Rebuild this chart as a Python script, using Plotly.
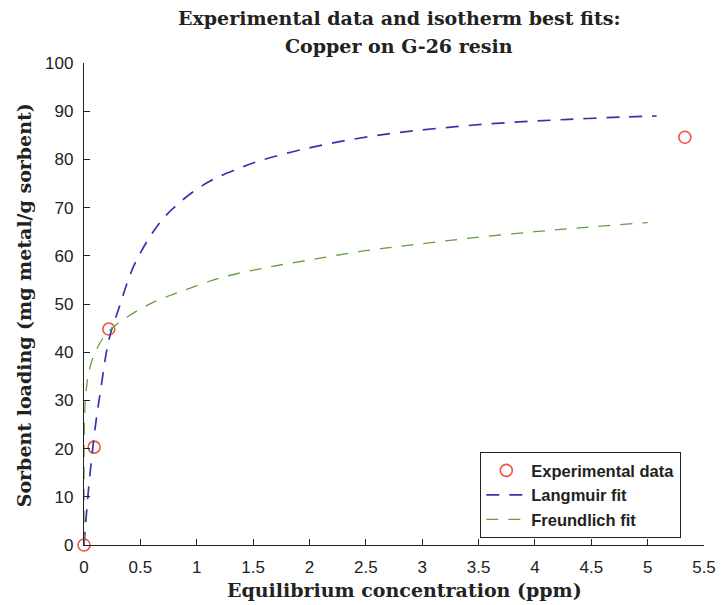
import plotly.graph_objects as go

# Experimental data
exp_x = [0.0, 0.09, 0.22, 5.33]
exp_y = [0.0, 20.3, 44.8, 84.6]

# Langmuir fit curve
lang_x = [0.0, 0.02, 0.05, 0.1, 0.15, 0.22, 0.305, 0.45, 0.67, 0.86, 1.11, 1.36, 1.57, 1.98, 2.39, 2.8, 3.3, 3.8, 4.3, 4.8, 5.08]
lang_y = [0.0, 6.0, 14.0, 24.5, 32.5, 42.5, 48.8, 58.3, 66.8, 71.3, 75.4, 78.0, 79.8, 82.3, 84.2, 85.6, 86.8, 87.7, 88.3, 88.8, 89.0]

# Freundlich fit curve
freu_x = [0.0, 0.0001, 0.001, 0.005, 0.01, 0.02, 0.05, 0.1, 0.2, 0.39, 0.6, 0.86, 1.22, 1.63, 2.04, 2.48, 2.89, 3.4, 4.0, 4.5, 5.0]
freu_y = [0.0, 16.0, 21.6, 26.6, 29.3, 32.3, 36.6, 40.0, 43.9, 47.4, 50.2, 52.6, 55.5, 57.6, 59.3, 61.0, 62.2, 63.6, 65.0, 66.0, 66.9]

x_ticks = [0, 0.5, 1, 1.5, 2, 2.5, 3, 3.5, 4, 4.5, 5, 5.5]
x_tick_text = ["0", "0.5", "1", "1.5", "2", "2.5", "3", "3.5", "4", "4.5", "5", "5.5"]
y_ticks = [0, 10, 20, 30, 40, 50, 60, 70, 80, 90, 100]

fig = go.Figure()
fig.add_trace(go.Scatter(x=exp_x, y=exp_y, mode="markers", name="<b>Experimental data</b>",
                         marker=dict(symbol="circle-open", size=12, color="#f0563f",
                                     line=dict(width=1.6, color="#f0563f")),
                         cliponaxis=False))
fig.add_trace(go.Scatter(x=lang_x, y=lang_y, mode="lines", name="<b>Langmuir fit</b>",
                         line=dict(color="#3535b0", width=1.7, dash="13px,10px", shape="spline")))
fig.add_trace(go.Scatter(x=freu_x, y=freu_y, mode="lines", name="<b>Freundlich fit</b>",
                         line=dict(color="#62a040", width=1.3, dash="12px,10px", shape="spline")))

serif = "DejaVu Serif"
sans = "Liberation Sans, Arial, sans-serif"

# plot area in pixels: left 84, right 707, top 63, bottom 545
L, R, T, B = 84, 707, 63, 545
W, H = R - L, B - T


def px(x):
    return (x - L) / W


def py(y):
    return (B - y) / H


annotations = [
    dict(text="<b>Experimental data and isotherm best fits:</b>", x=px(401), y=py(18),
         font=dict(family=serif, size=19, color="#222")),
    dict(text="<b>Copper on G-26 resin</b>", x=px(401), y=py(46),
         font=dict(family=serif, size=19, color="#222")),
    dict(text="<b>Equilibrium concentration (ppm)</b>", x=px(406), y=py(590),
         font=dict(family=serif, size=19, color="#222")),
    dict(text="<b>Sorbent loading (mg metal/g sorbent)</b>", x=px(24), y=py(305), textangle=-90,
         font=dict(family=serif, size=19, color="#222")),
]
for a in annotations:
    a.update(xref="paper", yref="paper", xanchor="center", yanchor="middle", showarrow=False)

fig.update_layout(
    width=728, height=605,
    margin=dict(l=L, r=728 - R, t=T, b=605 - B),
    paper_bgcolor="white", plot_bgcolor="white",
    annotations=annotations,
    xaxis=dict(range=[0, 5.5], tickvals=x_ticks, ticktext=x_tick_text,
               ticks="inside", ticklen=6, tickcolor="#222", showline=True, linecolor="#222",
               linewidth=1.3, showgrid=False, zeroline=False, ticklabelstandoff=6,
               tickfont=dict(family=sans, size=17, color="#222")),
    yaxis=dict(range=[0, 100], tickvals=y_ticks,
               ticks="inside", ticklen=6, tickcolor="#222", showline=True, linecolor="#222",
               linewidth=1.3, showgrid=False, zeroline=False, ticklabelstandoff=6,
               tickfont=dict(family=sans, size=17, color="#222")),
    legend=dict(x=px(482), y=py(452), xanchor="left", yanchor="top",
                bgcolor="white", bordercolor="#222", borderwidth=1.2,
                font=dict(family=sans, size=16.5, color="#222"),
                tracegroupgap=0, itemwidth=40),
    showlegend=True,
)

fig.write_html("out.html")
